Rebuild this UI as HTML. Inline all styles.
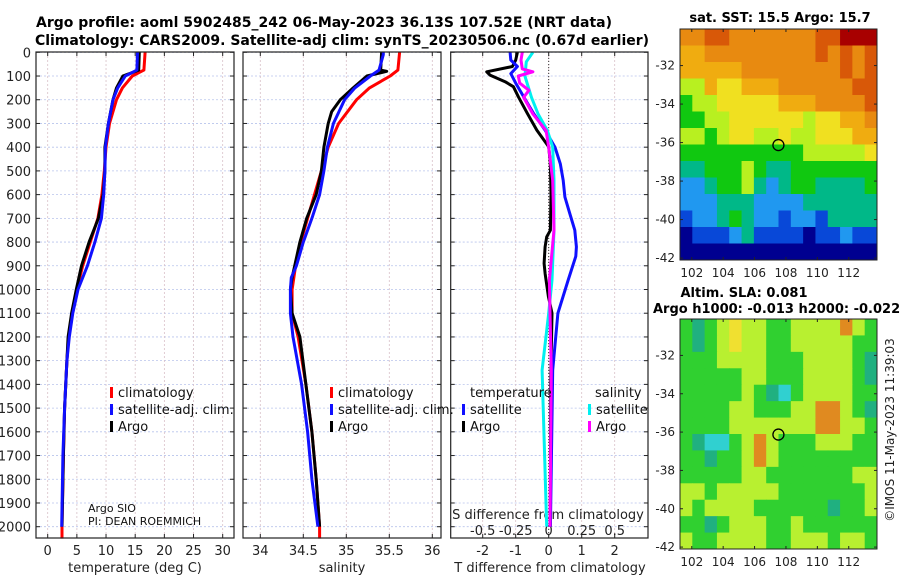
<!DOCTYPE html>
<html><head><meta charset="utf-8"><style>
html,body{margin:0;padding:0;background:#fff;}
svg{display:block;font-family:"DejaVu Sans","Liberation Sans",sans-serif;}
</style></head><body>
<svg id="fig" width="900" height="580" viewBox="0 0 900 580">
<text x="324" y="27" text-anchor="middle" font-size="14" font-weight="bold">Argo profile: aoml 5902485_242 06-May-2023 36.13S 107.52E (NRT data)</text>
<text x="342" y="45" text-anchor="middle" font-size="14" font-weight="bold">Climatology: CARS2009. Satellite-adj clim: synTS_20230506.nc (0.67d earlier)</text>
<text x="780" y="22" text-anchor="middle" font-size="13" font-weight="bold">sat. SST: 15.5 Argo: 15.7</text>
<text x="744" y="297" text-anchor="middle" font-size="13" font-weight="bold">Altim. SLA: 0.081</text>
<text x="653" y="313" font-size="13" font-weight="bold">Argo h1000: -0.013 h2000: -0.022</text>
<text transform="translate(894,430) rotate(-90)" text-anchor="middle" font-size="12" fill="#222">©IMOS 11-May-2023 11:39:03</text>
</svg>
<script>
// ---- data ----
const depthTicks = [0,100,200,300,400,500,600,700,800,900,1000,1100,1200,1300,1400,1500,1600,1700,1800,1900,2000];
const tempTicks = [0,5,10,15,20,25,30];
const salTicks = [34,34.5,35,35.5,36];
const salTickLabels = ["34","34.5","35","35.5","36"];
const tdiffTicks = [-2,-1,0,1,2];
const sdiffTicks = [-0.5,-0.25,0,0.25,0.5];
const sdiffTickLabels = ["-0.5","-0.25","0","0.25","0.5"];

const tDepthArgo = [0,75,90,100,150,200,300,400,500,600,700,800,900,1000,1100,1200,1300,1500,1700,2000];
const tArgo      = [15.7,15.6,14,12.9,11.8,11.2,10.4,9.8,9.8,9.5,8.7,7.1,5.8,4.9,4.1,3.5,3.3,2.9,2.7,2.45];
const tDepthClim = [0,75,100,150,200,300,400,500,600,700,800,900,1000,1100,1200,1300,1500,1700,2000,2050];
const tClim      = [16.7,16.5,14.5,12.8,11.8,10.6,10.0,9.7,9.3,8.6,7.3,6.0,5.0,4.2,3.6,3.3,2.9,2.7,2.45,2.45];
const tDepthSat  = [0,75,100,150,200,300,400,500,600,700,800,900,1000,1100,1200,1300,1500,1700,2000];
const tSat       = [15.4,15.3,13.3,12.0,11.2,10.4,9.9,9.8,9.6,9.2,8.1,6.8,5.2,4.3,3.7,3.3,2.9,2.6,2.4];

const sDepthArgo = [0,75,80,100,150,200,250,300,400,500,600,700,800,900,950,1000,1100,1200,1400,1600,1800,2000];
const sArgo      = [35.41,35.40,35.47,35.24,35.08,34.93,34.83,34.79,34.74,34.71,34.65,34.54,34.46,34.40,34.37,34.35,34.37,34.46,34.53,34.60,34.65,34.69];
const sDepthClim = [0,75,100,150,200,300,400,500,600,700,800,900,1000,1100,1200,1400,1600,1800,2000,2050];
const sClim      = [35.62,35.60,35.51,35.27,35.12,34.91,34.79,34.71,34.63,34.55,34.47,34.41,34.37,34.37,34.44,34.53,34.60,34.65,34.69,34.69];
const sDepthSat  = [0,10,75,100,150,200,300,400,500,600,700,800,900,950,1000,1100,1200,1400,1600,1800,2000];
const sSat       = [35.43,35.43,35.38,35.28,35.10,34.98,34.85,34.78,34.74,34.69,34.60,34.50,34.42,34.36,34.35,34.35,34.38,34.48,34.55,34.60,34.67];

const dDepthTArgo = [0,33,60,82,96,124,145,187,257,328,398,470,600,750,778,820,890,932,1030,1100,1400,2000];
const dTArgo      = [-0.95,-1.0,-1.1,-1.88,-1.78,-1.32,-1.07,-0.92,-0.65,-0.36,0,0.05,0.07,0.05,-0.06,-0.11,-0.14,-0.11,-0.01,0.1,0.06,0.05];
const dDepthTSat  = [0,33,60,90,130,190,260,330,400,470,540,610,680,750,820,860,960,1100,1340,2000];
const dTSat       = [-1.17,-1.15,-0.95,-1.15,-1.0,-0.75,-0.45,-0.1,0.19,0.35,0.44,0.49,0.64,0.79,0.84,0.82,0.59,0.28,0.12,0.05];
const dDepthSArgo = [0,33,70,82,100,130,160,190,260,330,400,540,750,960,1100,1340,2000];
const dSArgo      = [-0.2,-0.21,-0.2,-0.12,-0.23,-0.22,-0.15,-0.19,-0.12,-0.02,0,0.03,0.04,0.005,0.01,0.02,0.01];
const dDepthSSat  = [0,40,100,190,260,330,400,540,750,960,1100,1340,2000];
const dSSat       = [-0.12,-0.17,-0.18,-0.13,-0.08,-0.01,0.03,0.04,0.04,0.025,0,-0.05,-0.015];

const lonTicks = [102,104,106,108,110,112];
const latTicks = [-32,-34,-36,-38,-40,-42];
const argoLon = 107.52, argoLat = -36.13;
const sstRows = [
"OORROOOOOOORRDDD","ooOOOOOOOOOROROR","oooooOOOOOOOOROR","yyoYYoooOOOOOORR",
"GyyYYYYYoooOOOOR","GGyyYYYYYYyYYooO","yyGyYYyyYyyYYYoo","GGGGGGGGGGyyyyyY",
"TTGGGyGTTGGGGGGG","LLTGGyTLTGGTTTTG","LLLTTTLLLLTTTTTT","BLLTGTLLBLLBTTTT",
"NBBBLTBBBBNBBLBB","NNNNNNNNNNNNNNNN"];
const slaRows = [
"GTGyYyyGGyyyyOyG","GTGyYyyGGyyyyyGG","GGGyyyyGGGyyyyGT","GGGGGyyGGGyyyyGT",
"GGGGGyGTCGyyyyGG","GGGGyyGGGyyOOyGT","GGGGyyyyyyyOOyyG","GTCCGyOyGGGyyyGG",
"GGTGGyOyGGGGGGGG","GGGGGyyGGGGGGGyy","yyGyyyyyGGGGGGGy","yGyyyyGGGGGGTGGy",
"GGTGyyyGGyGGGGGG","yGGyyyyGGyyyGyyG"];

// ---- helpers ----
const NS="http://www.w3.org/2000/svg";
const svg=document.getElementById('fig');
function mk(tag,attrs,parent){const e=document.createElementNS(NS,tag);for(const k in attrs)e.setAttribute(k,attrs[k]);(parent||svg).appendChild(e);return e;}
const Y0=52.3, YS=0.2372, PT=52, PB=538;
const yD=d=>Y0+d*YS;
const xT=v=>47.7+v*5.833;
const xS=v=>260.3+(v-34)*86;
const xDT=v=>548.7+v*33;
const xDS=v=>548.7+v*132;
const panels=[[36,234],[243,441],[450.7,648]];

panels.forEach((p,i)=>{
  depthTicks.forEach(d=>{
    const l=mk('line',{x1:p[0],x2:p[1],y1:yD(d),y2:yD(d),stroke:'#b8c4ec','stroke-width':0.8,'stroke-dasharray':'2,2'});
    
    
    mk('line',{x1:p[0],x2:p[0]+4,y1:yD(d),y2:yD(d),stroke:'#222'});
    mk('line',{x1:p[1]-4,x2:p[1],y1:yD(d),y2:yD(d),stroke:'#222'});
  });
});
function vgrid(vals,fx){vals.forEach(v=>{const l=mk('line',{x1:fx(v),x2:fx(v),y1:PT,y2:PB,stroke:'#d8c0c8','stroke-width':0.8,'stroke-dasharray':'2,2'});
 
 
 mk('line',{x1:fx(v),x2:fx(v),y1:PB-4,y2:PB,stroke:'#222'});mk('line',{x1:fx(v),x2:fx(v),y1:PT,y2:PT+4,stroke:'#222'});});}
vgrid(tempTicks,xT);vgrid(salTicks,xS);vgrid(tdiffTicks,xDT);
mk('line',{x1:xDT(0),x2:xDT(0),y1:PT,y2:PB,stroke:'#333','stroke-width':1,'stroke-dasharray':'1,2'});

depthTicks.forEach(d=>{const t=mk('text',{x:31,y:yD(d)+5,'text-anchor':'end','font-size':13,fill:'#222'});t.textContent=d;
 
 });
tempTicks.forEach(v=>{const t=mk('text',{x:xT(v),y:555,'text-anchor':'middle','font-size':13,fill:'#222'});t.textContent=v;
 
 });
salTicks.forEach((v,i)=>{const t=mk('text',{x:xS(v),y:555,'text-anchor':'middle','font-size':13,fill:'#222'});t.textContent=salTickLabels[i];
 
 });
tdiffTicks.forEach(v=>{const t=mk('text',{x:xDT(v),y:555,'text-anchor':'middle','font-size':13,fill:'#222'});t.textContent=v;
 
 });
sdiffTicks.forEach((v,i)=>{const t=mk('text',{x:xDS(v),y:535,'text-anchor':'middle','font-size':13,fill:'#222'});t.textContent=sdiffTickLabels[i];
 
 });
[['temperature (deg C)',135,'temp-axis-title'],['salinity',342,'salinity-axis-title'],['T difference from climatology',550,'tdiff-axis-title']].forEach(a=>{
 const t=mk('text',{x:a[1],y:572,'text-anchor':'middle','font-size':13,fill:'#222'});t.textContent=a[0];
 
 });
{const t=mk('text',{x:548,y:519,'text-anchor':'middle','font-size':13,fill:'#222'});t.textContent='S difference from climatology';
 
 }

function line(ds,vs,fx,col,w,name){const pts=ds.map((d,i)=>fx(vs[i]).toFixed(1)+','+yD(d).toFixed(1)).join(' ');
 const e=mk('polyline',{points:pts,fill:'none',stroke:col,'stroke-width':w,'stroke-linejoin':'round'});
 
 }
line(tDepthClim,tClim,xT,'#f00',3,'temp-climatology-line');
line(tDepthArgo,tArgo,xT,'#000',3,'temp-argo-line');
line(tDepthSat,tSat,xT,'#1010ff',3,'temp-satellite-line');
line(sDepthClim,sClim,xS,'#f00',3,'sal-climatology-line');
line(sDepthArgo,sArgo,xS,'#000',3,'sal-argo-line');
line(sDepthSat,sSat,xS,'#1010ff',3,'sal-satellite-line');
line(dDepthTArgo,dTArgo,xDT,'#000',3,'tdiff-argo-line');
line(dDepthTSat,dTSat,xDT,'#1010ff',3,'tdiff-satellite-line');
line(dDepthSSat,dSSat,xDS,'#00f0f0',3,'sdiff-satellite-line');
line(dDepthSArgo,dSArgo,xDS,'#f0f',3,'sdiff-argo-line');

panels.forEach((p,i)=>{const r=mk('rect',{x:p[0],y:PT,width:p[1]-p[0],height:PB-PT,fill:'none',stroke:'#222','stroke-width':1.2});
 
 });

function legend(x,y,items,name){items.forEach((it,i)=>{const yy=y+i*17;
 mk('rect',{x:x,y:yy-10,width:3,height:11,fill:it[1]});
 const t=mk('text',{x:x+8,y:yy,'font-size':13,fill:'#111'});t.textContent=it[0];
 
 });}
legend(110,397,[['climatology','#f00'],['satellite-adj. clim.','#1010ff'],['Argo','#000']],'temp-legend');
legend(330,397,[['climatology','#f00'],['satellite-adj. clim.','#1010ff'],['Argo','#000']],'sal-legend');
{const t=mk('text',{x:470,y:397,'font-size':13,fill:'#111'});t.textContent='temperature';
 
 }
{const t=mk('text',{x:595,y:397,'font-size':13,fill:'#111'});t.textContent='salinity';
 
 }
legend(462,414,[['satellite','#1010ff'],['Argo','#000']],'tdiff-legend');
legend(588,414,[['satellite','#00f0f0'],['Argo','#f0f']],'sdiff-legend');
{const t=mk('text',{x:88,y:512,'font-size':11,fill:'#111'});t.textContent='Argo SIO';
 
 }
{const t=mk('text',{x:88,y:525,'font-size':11,fill:'#111'});t.textContent='PI: DEAN ROEMMICH';
 
 }

const sstCol={D:'#a80000',R:'#d85808',O:'#e88a10',o:'#f0ac10',Y:'#f0e020',y:'#b8f020',G:'#10c810',T:'#00b888',C:'#20d0e0',L:'#2098f0',B:'#0848d8',N:'#000090'};
const slaCol={G:'#30d030',y:'#b8f030',Y:'#f0e030',O:'#e08a20',T:'#20b080',C:'#30d0d0'};
function map(top,bot,rows,cols,name,latTop,latBot){
 const L=680,R=877,lonL=101.25,lonR=113.8;
 const xl=v=>L+(v-lonL)/(lonR-lonL)*(R-L);
 const yl=v=>top+(latTop-v)/(latTop-latBot)*(bot-top);
 const g=mk('g',{});
 const nr=rows.length,nc=rows[0].length,cw=(R-L)/nc,ch=(bot-top)/nr;
 rows.forEach((r,i)=>{for(let j=0;j<nc;j++)mk('rect',{x:L+j*cw,y:top+i*ch,width:cw+0.5,height:ch+0.5,fill:cols[r[j]]},g);});
 mk('rect',{x:L,y:top,width:R-L,height:bot-top,fill:'none',stroke:'#222'},g);
 lonTicks.forEach(v=>{const t=mk('text',{x:xl(v),y:bot+17,'text-anchor':'middle','font-size':12,fill:'#222'},g);t.textContent=v;
  mk('line',{x1:xl(v),x2:xl(v),y1:bot-3,y2:bot,stroke:'#222'},g);mk('line',{x1:xl(v),x2:xl(v),y1:top,y2:top+3,stroke:'#222'},g);});
 latTicks.forEach(v=>{const t=mk('text',{x:675,y:yl(v)+4,'text-anchor':'end','font-size':12,fill:'#222'},g);t.textContent=v;
  mk('line',{x1:L,x2:L+3,y1:yl(v),y2:yl(v),stroke:'#222'},g);mk('line',{x1:R-3,x2:R,y1:yl(v),y2:yl(v),stroke:'#222'},g);});
 const c=mk('circle',{cx:xl(argoLon),cy:yl(argoLat),r:5.5,fill:'none',stroke:'#000','stroke-width':1.3},g);
 
 
}
map(29,260,sstRows,sstCol,'sst-map',-30.1,-42.1);
map(319,549,slaRows,slaCol,'sla-map',-30.1,-42.1);
</script>
</body></html>
